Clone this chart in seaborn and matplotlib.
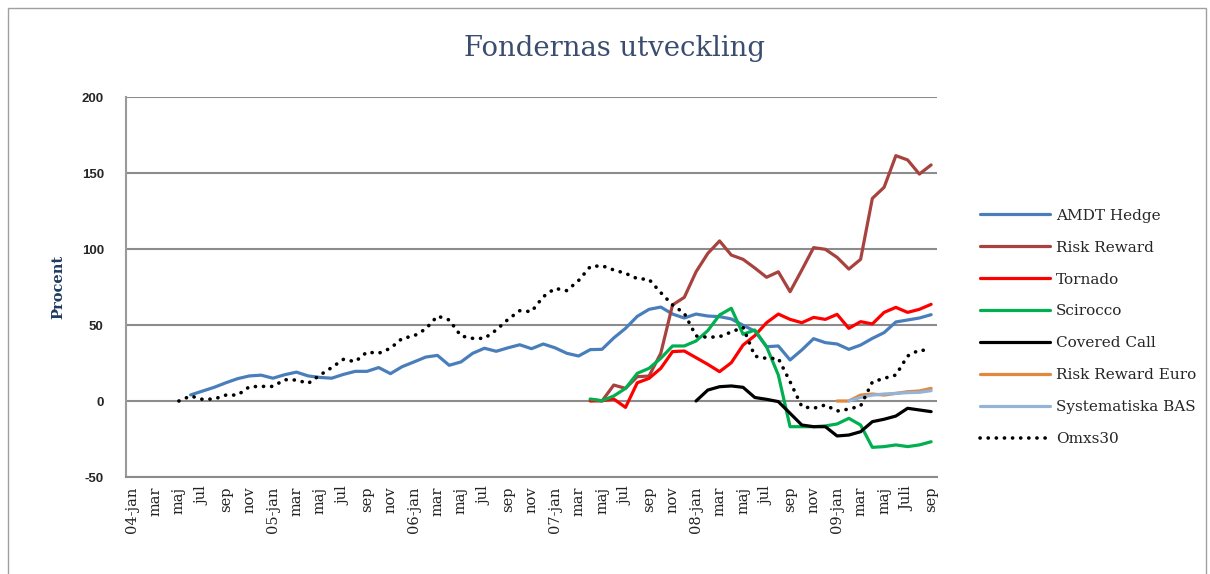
import numpy as np
import pandas as pd
import matplotlib
matplotlib.use("Agg")
import matplotlib.pyplot as plt
import seaborn as sns
from matplotlib.patches import Rectangle

# -------------------------------
# Data (percent, monthly 2004-jan .. 2009-sep)
# -------------------------------
month_labels = ['04-jan', 'mar', 'maj', 'jul', 'sep', 'nov',
                '05-jan', 'mar', 'maj', 'jul', 'sep', 'nov',
                '06-jan', 'mar', 'maj', 'jul', 'sep', 'nov',
                '07-jan', 'mar', 'maj', 'jul', 'sep', 'nov',
                '08-jan', 'mar', 'maj', 'jul', 'sep', 'nov',
                '09-jan', 'mar', 'maj', 'Juli', 'sep']
n_months = 69

amdt_start = 5
amdt = [4, 6.5, 9, 12, 14.7, 16.5, 17, 15, 17.3, 19, 16.5, 15.5, 15, 17.5,
        19.5, 19.5, 22, 18, 22.6, 25.7, 28.9, 30, 23.5, 25.7, 31.4, 34.7,
        32.7, 35, 37, 34.4, 37.5, 35, 31.4, 29.6, 33.8, 34, 41.5, 47.8, 55.7,
        60.3, 61.8, 57.2, 54.6, 57.2, 55.9, 55.5, 54, 49.8, 46, 35.7, 36.2,
        27, 33.6, 41, 38.4, 37.5, 34, 36.8, 41.2, 45, 52, 53.3, 54.6, 56.8]

risk_start = 39
risk_reward = [1, 0, 10.5, 8.3, 16, 16.4, 31.4, 63.2, 68.2, 85, 97.1, 105.3,
               96, 93.2, 87.5, 81.4, 85, 71.9, 86.2, 100.9, 99.8, 94.5, 86.8,
               93.2, 133.3, 140.6, 161.4, 158.6, 149.3, 155.3]

tornado_start = 39
tornado = [0, 0.2, 1.3, -4.2, 12, 14.9, 21.5, 32.5, 32.9, 28.5, 24.1, 19.3,
           25.2, 36.8, 43, 51.5, 57.2, 53.7, 51.5, 55, 53.7, 57, 47.8, 52.2,
           50.7, 58.3, 61.6, 58.3, 60.3, 63.6]

scirocco_start = 39
scirocco = [1.3, 0.2, 3.3, 8.3, 18.2, 21.5, 28.1, 36.2, 36.2, 39.5, 46.3,
            56.6, 61, 43.9, 46.7, 35.7, 17.1, -16.9, -16.9, -16.9, -16.4,
            -15.1, -11.4, -15.8, -30.5, -30, -28.9, -30, -28.9, -26.8]

covered_start = 48
covered_call = [0, 7.2, 9.4, 9.9, 9, 2.3, 1.1, -0.4, -8.1, -15.8, -16.9,
                -16.9, -23, -22.4, -20.2, -13.6, -12, -9.9, -4.8, -5.9, -7]

rre_start = 60
risk_reward_euro = [0, 0, 3.9, 4.6, 3.9, 5, 6.1, 6.6, 8.3]

bas_start = 61
systematiska_bas = [0, 2.4, 3.9, 4.6, 5, 5.5, 5.7, 6.8]

omx_start = 4
omxs30 = [0, 3.3, 1.1, 1.3, 3.9, 3.9, 9.4, 9.6, 9.6, 14, 13.8, 11.6, 17, 22,
          27.4, 25.9, 32.2, 31.4, 34.7, 41.2, 42.8, 47.4, 55.9, 53.3, 42.8,
          41.2, 41.2, 46.7, 53.7, 59.4, 58.8, 68.6, 74.1, 72.6, 79.2, 88.4,
          89, 86.2, 84, 80.5, 80, 71.3, 63.2, 57.7, 42.8, 41.9, 42.3, 45.4,
          48.5, 29.5, 28, 28, 12.7, -3.7, -4.8, -2.6, -6.6, -5.3, -3.3, 12.5,
          14.9, 17.1, 29.6, 33.6, 32.9]

series = [
    ("AMDT Hedge", amdt_start, amdt, "#4A7EBB"),
    ("Risk Reward", risk_start, risk_reward, "#A8423F"),
    ("Tornado", tornado_start, tornado, "#FF0000"),
    ("Scirocco", scirocco_start, scirocco, "#00B050"),
    ("Covered Call", covered_start, covered_call, "#000000"),
    ("Risk Reward Euro", rre_start, risk_reward_euro, "#E0883C"),
    ("Systematiska BAS", bas_start, systematiska_bas, "#95B3D7"),
    ("Omxs30", omx_start, omxs30, "#000000"),
]

# -------------------------------
# Plot
# -------------------------------
sns.set_style("white")
plt.rcParams['font.family'] = ['DejaVu Serif']
plt.rcParams['axes.unicode_minus'] = False

fig = plt.figure(figsize=(12.1, 5.74), dpi=100)
ax = fig.add_axes([126 / 1210, 97 / 574, (937 - 126) / 1210, 380 / 574])

for name, start, vals, color in series:
    df = pd.DataFrame({"month": np.arange(start, start + len(vals)), "value": vals})
    if name == "Omxs30":
        sns.lineplot(data=df, x="month", y="value", ax=ax, color=color,
                     linewidth=2.6, linestyle=(0, (0.05, 2.2)),
                     dash_capstyle='round', label=name, zorder=3)
    else:
        sns.lineplot(data=df, x="month", y="value", ax=ax, color=color,
                     linewidth=2.3, label=name, zorder=2)

ax.set_xlim(-0.5, n_months - 0.5)
ax.set_ylim(-50, 200)
ax.set_yticks(range(-50, 201, 50))
ax.set_xticks(range(0, n_months, 2))
ax.set_xticklabels(month_labels, rotation=90, fontsize=10.5, color="#222222")
for lbl in ax.get_yticklabels():
    lbl.set_fontfamily("Liberation Sans")
    lbl.set_fontweight("bold")
    lbl.set_fontsize(9.5)
ax.tick_params(axis="y", length=0, pad=16)
ax.tick_params(axis="x", length=0, pad=7)
ax.set_xlabel("")
ax.set_ylabel("Procent", fontsize=10.5, fontweight="bold", color="#1F3A60",
              labelpad=12)

ax.yaxis.grid(True, color="#8C8C8C", linewidth=1.5)
ax.set_axisbelow(True)
for side in ["top", "right"]:
    ax.spines[side].set_visible(False)
ax.spines["left"].set_color("#9A9A9A")
ax.spines["left"].set_linewidth(1.5)
ax.spines["bottom"].set_color("#8C8C8C")
ax.spines["bottom"].set_linewidth(1.5)

handles, labels = ax.get_legend_handles_labels()
ax.get_legend().remove()
fig.legend(handles, labels, loc="upper left",
           bbox_to_anchor=(966 / 1210, 1 - 195 / 574), frameon=False,
           fontsize=11, handlelength=4.6, labelspacing=1.17, handletextpad=0.4)

fig.text(0.508, 1 - 48 / 574, "Fondernas utveckling", ha="center", va="center",
         fontsize=19.8, color="#3A4D6E")

fig.patches.append(Rectangle((8 / 1210, -0.01), 1198 / 1210, 1 - 8 / 574 + 0.01,
                             transform=fig.transFigure, fill=False,
                             edgecolor="#A0A0A0", linewidth=1))

fig.savefig("out.png", dpi=100)
